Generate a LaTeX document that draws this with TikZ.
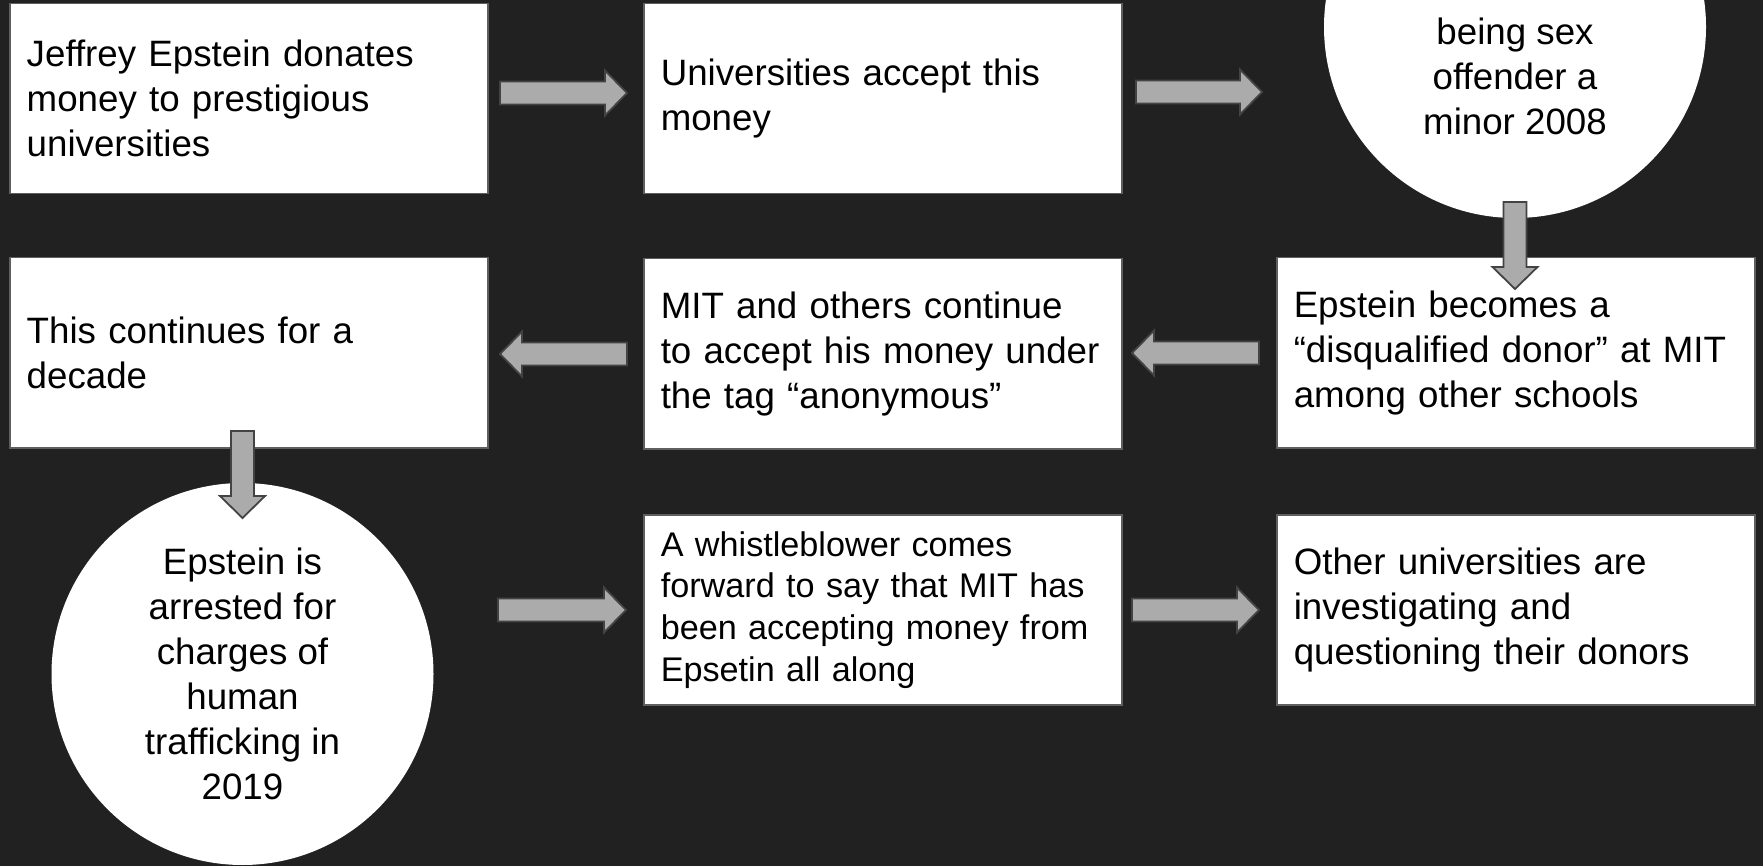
\documentclass[tikz,border=0pt]{standalone}
\usepackage{fontspec}
\setmainfont{Liberation Sans}
\definecolor{bg}{RGB}{33,33,33}
\definecolor{boxline}{RGB}{95,95,95}
\definecolor{arrowfill}{RGB}{171,171,171}
\definecolor{arrowline}{RGB}{67,67,67}
\begin{document}
\begin{tikzpicture}[x=1pt,y=-1pt,
  txt/.style={font=\fontsize{36.7pt}{45pt}\selectfont},
  box/.style={txt, draw=boxline, line width=1.5pt, fill=white,
    minimum width=478pt, minimum height=190pt, text width=444pt,
    inner xsep=17pt, inner ysep=0pt, align=left, anchor=north west},
  disc/.style={txt, circle, fill=white, minimum size=382pt, inner sep=0pt, align=center},
  blockshape/.style={fill=arrowfill, draw=arrowline, line width=1.8pt, line join=miter},
  pics/blockarrow/.style={code={
    \path[blockshape] (0,-11.5) -- ({#1-22},-11.5) -- ({#1-22},-22.5) -- (#1,0)
      -- ({#1-22},22.5) -- ({#1-22},11.5) -- (0,11.5) -- cycle;}}
]
\useasboundingbox (0,0) rectangle (1763,866);
\clip (0,0) rectangle (1763,866);
\fill[bg] (0,0) rectangle (1763,866);

% row 1
\node[box] (b1) at (9,3) {Jeffrey Epstein donates\\money to prestigious\\universities};
\node[box] (b2) at (643,3) {Universities accept this\\money};
\node[disc] (c1) at (1515,27) {};
\node[txt, align=center, inner sep=0pt] (c1t) at (1515,76) {being sex\\offender a\\minor 2008};

% row 2
\node[box] (b4) at (9,257) {This continues for a\\decade};
\node[box] (b5) at (643,258) {MIT and others continue\\to accept his money under\\the tag “anonymous”};
\node[box] (b6) at (1276,257) {Epstein becomes a\\“disqualified donor” at MIT\\among other schools};

% row 3
\node[disc] (c2) at (242.5,674) {Epstein is\\arrested for\\charges of\\human\\trafficking in\\2019};
\node[box, font=\fontsize{34.2pt}{41.7pt}\selectfont] (b8) at (643,514) {A whistleblower comes\\forward to say that MIT has\\been accepting money from\\Epsetin all along};
\node[box] (b9) at (1276,514) {Other universities are\\investigating and\\questioning their donors};

% block arrows
\coordinate (a1) at (500,93);
\coordinate (a2) at (1136,92);
\coordinate (a3) at (1515,202);
\coordinate (a4) at (1259,353);
\coordinate (a5) at (627,354);
\coordinate (a6) at (242.5,431);
\coordinate (a7) at (498,610);
\coordinate (a8) at (1132,610);
\pic at (a1) {blockarrow=127};
\pic at (a2) {blockarrow=126};
\pic[rotate=-90] at (a3) {blockarrow=87};
\pic[rotate=180] at (a4) {blockarrow=127};
\pic[rotate=180] at (a5) {blockarrow=127};
\pic[rotate=-90] at (a6) {blockarrow=87};
\pic at (a7) {blockarrow=128};
\pic at (a8) {blockarrow=127};
\end{tikzpicture}
\end{document}
